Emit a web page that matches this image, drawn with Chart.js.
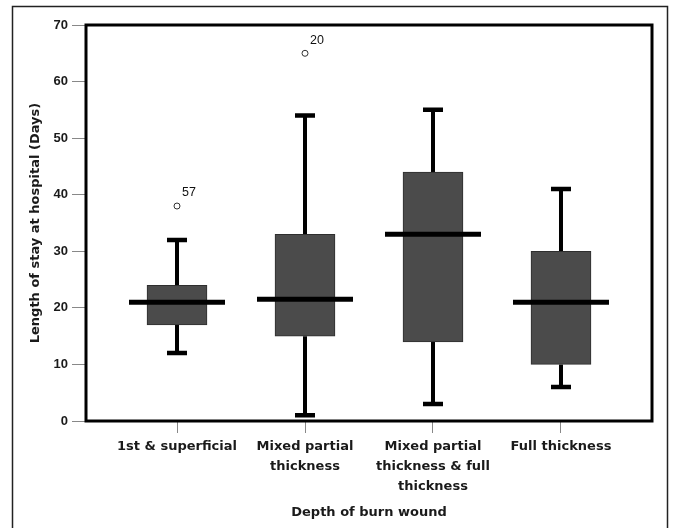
<!DOCTYPE html>
<html><head><meta charset="utf-8">
<script src="https://cdn.jsdelivr.net/npm/chart.js@4"></script>
<style>html,body{margin:0;padding:0;background:#fff}#c{display:block}</style>
</head><body>
<canvas id="c" width="674" height="528"></canvas>
<script>
// ---- data ----
const categories = [['1st & superficial'], ['Mixed partial', 'thickness'], ['Mixed partial', 'thickness & full', 'thickness'], ['Full thickness']];
const whiskerLow  = [12, 1, 3, 6];
const q1          = [17, 15, 14, 10];
const median      = [21, 21.5, 33, 21];
const q3          = [24, 33, 44, 30];
const whiskerHigh = [32, 54, 55, 41];
const outlierCat    = [0, 1];
const outlierValues = [38, 65];
const outlierLabels = ['57', '20'];
const yTickValues = [0, 10, 20, 30, 40, 50, 60, 70];

const boxData = categories.map((c, i) => ({ x: i, y: [q1[i], q3[i]] }));
const outlierData = outlierCat.map((c, i) => ({ x: c, y: outlierValues[i] }));

const TXT = '#1a1a1a';
const FONT = '"DejaVu Sans", sans-serif';

const framePlugin = {
  id: 'frame',
  beforeDraw(chart) {
    const ctx = chart.ctx;
    ctx.save();
    ctx.fillStyle = '#fff';
    ctx.fillRect(0, 0, chart.width, chart.height);
    ctx.strokeStyle = '#222';
    ctx.lineWidth = 1.5;
    ctx.strokeRect(12.5, 6.5, 655, 600);
    ctx.restore();
  },
  afterDraw(chart) {
    const a = chart.chartArea, ctx = chart.ctx;
    ctx.save();
    ctx.strokeStyle = '#000';
    ctx.lineWidth = 3;
    ctx.strokeRect(a.left, a.top, a.right - a.left, a.bottom - a.top);
    ctx.restore();
  }
};

const boxPlugin = {
  id: 'boxparts',
  beforeDatasetsDraw(chart) {
    const ctx = chart.ctx, xs = chart.scales.x, ys = chart.scales.y;
    ctx.save();
    ctx.strokeStyle = '#000';
    ctx.lineCap = 'butt';
    categories.forEach((c, i) => {
      const x = xs.getPixelForValue(i);
      ctx.lineWidth = 4;
      ctx.beginPath();
      ctx.moveTo(x, ys.getPixelForValue(whiskerLow[i]));
      ctx.lineTo(x, ys.getPixelForValue(q1[i]));
      ctx.moveTo(x, ys.getPixelForValue(q3[i]));
      ctx.lineTo(x, ys.getPixelForValue(whiskerHigh[i]));
      ctx.stroke();
      ctx.lineWidth = 4.5;
      ctx.beginPath();
      [whiskerLow[i], whiskerHigh[i]].forEach(v => {
        const y = ys.getPixelForValue(v);
        ctx.moveTo(x - 10, y);
        ctx.lineTo(x + 10, y);
      });
      ctx.stroke();
    });
    ctx.restore();
  },
  afterDatasetsDraw(chart) {
    const ctx = chart.ctx, xs = chart.scales.x, ys = chart.scales.y;
    ctx.save();
    ctx.strokeStyle = '#000';
    ctx.lineWidth = 5;
    categories.forEach((c, i) => {
      const x = xs.getPixelForValue(i);
      const y = ys.getPixelForValue(median[i]);
      ctx.beginPath();
      ctx.moveTo(x - 48, y);
      ctx.lineTo(x + 48, y);
      ctx.stroke();
    });
    ctx.fillStyle = '#111';
    ctx.font = '12.5px "Liberation Sans Narrow", "Liberation Sans", Arial, sans-serif';
    ctx.textAlign = 'left';
    ctx.textBaseline = 'middle';
    outlierCat.forEach((c, i) => {
      const x = xs.getPixelForValue(c);
      const y = ys.getPixelForValue(outlierValues[i]);
      ctx.fillText(outlierLabels[i], x + 5, y - 13);
    });
    ctx.restore();
  }
};

new Chart(document.getElementById('c'), {
  type: 'bar',
  data: {
    datasets: [
      {
        type: 'bar',
        data: boxData,
        backgroundColor: '#4b4b4b',
        borderColor: '#2e2e2e',
        borderWidth: 1,
        borderSkipped: false,
        barThickness: 60,
        order: 2
      },
      {
        type: 'scatter',
        data: outlierData,
        pointStyle: 'circle',
        pointRadius: 3,
        pointBackgroundColor: '#fff',
        pointBorderColor: '#333',
        pointBorderWidth: 1,
        order: 1
      }
    ]
  },
  options: {
    responsive: false,
    animation: false,
    layout: { padding: { left: 0, right: 22, top: 25, bottom: 0 } },
    plugins: { legend: { display: false }, tooltip: { enabled: false } },
    scales: {
      x: {
        type: 'linear',
        offset: false,
        min: -0.711,
        max: 3.711,
        afterBuildTicks: s => { s.ticks = categories.map((c, i) => ({ value: i })); },
        afterFit: s => { s.height = 107; },
        ticks: {
          callback: v => categories[v],
          autoSkip: false,
          maxRotation: 0,
          padding: 4,
          color: TXT,
          font: { family: FONT, size: 13, weight: 'bold', lineHeight: 1.52 }
        },
        grid: { offset: false, drawOnChartArea: false, drawTicks: true, tickLength: 12, color: '#888', lineWidth: 1 },
        border: { display: false },
        title: {
          display: true,
          text: 'Depth of burn wound',
          color: TXT,
          font: { family: FONT, size: 13, weight: 'bold', lineHeight: 1.2 },
          padding: { top: 0, bottom: 8 }
        }
      },
      y: {
        min: 0,
        max: 70,
        afterBuildTicks: s => { s.ticks = yTickValues.map(v => ({ value: v })); },
        afterFit: s => { s.width = 86; },
        ticks: {
          padding: 4,
          color: TXT,
          font: { family: '"Liberation Sans", Arial, sans-serif', size: 13, weight: 'bold' }
        },
        grid: { drawOnChartArea: false, drawTicks: true, tickLength: 14, color: '#888', lineWidth: 1 },
        border: { display: false },
        title: {
          display: true,
          text: 'Length of stay at hospital (Days)',
          color: TXT,
          font: { family: FONT, size: 13, weight: 'bold', lineHeight: 1.2 },
          padding: { top: 28, bottom: 0 }
        }
      }
    }
  },
  plugins: [framePlugin, boxPlugin]
});
</script>
</body></html>
